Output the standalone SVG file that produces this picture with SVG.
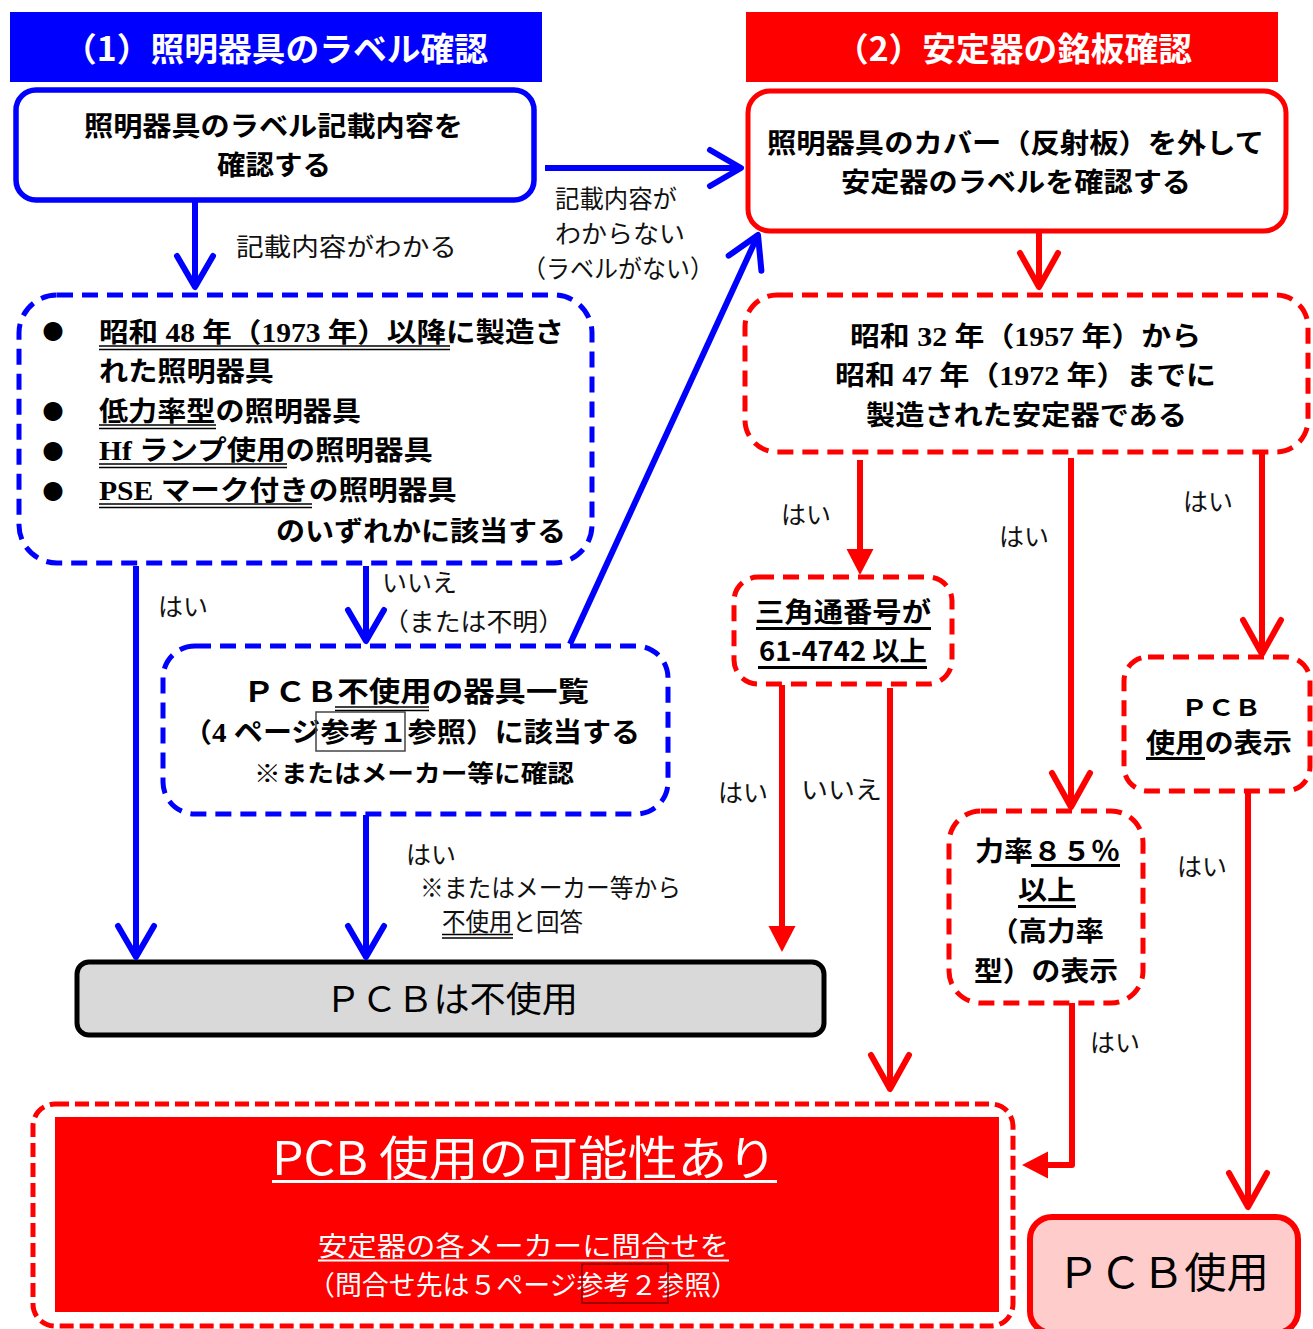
<svg xmlns="http://www.w3.org/2000/svg" width="1313" height="1329" viewBox="0 0 1313 1329">
<style>
.g{font-family:"Noto Sans CJK JP","Liberation Sans",sans-serif}
.b{font-family:"Noto Sans CJK JP","Liberation Sans",sans-serif;font-weight:bold;fill:#000}
.s{font-family:"Liberation Serif","Noto Sans CJK JP",serif;font-weight:bold;fill:#000}
.lbl{font-family:"Noto Sans CJK JP","Liberation Sans",sans-serif;font-size:25px;fill:#111}
.ttl{font-family:"Noto Sans CJK JP","Liberation Sans",sans-serif;font-weight:bold;font-size:33px;fill:#fff}
.bd{fill:#fff;stroke:#0000ff;stroke-width:5;stroke-dasharray:16 9}
.rd{fill:#fff;stroke:#ff0000;stroke-width:5;stroke-dasharray:16 9}
.ul{stroke:#000;stroke-width:1.3}
.ut{stroke:#000;stroke-width:3}
.bl{fill:none;stroke:#0000ff;stroke-width:6}
.rl{fill:none;stroke:#ff0000;stroke-width:6}
</style>
<defs>
<marker id="cb" markerUnits="userSpaceOnUse" markerWidth="60" markerHeight="60" refX="0" refY="0" orient="auto" overflow="visible"><path d="M-31,-18 L0,0 L-31,18" fill="none" stroke="#0000ff" stroke-width="6" stroke-linecap="round" stroke-linejoin="round"/></marker>
<marker id="cr" markerUnits="userSpaceOnUse" markerWidth="60" markerHeight="60" refX="0" refY="0" orient="auto" overflow="visible"><path d="M-34,-19 L0,0 L-34,19" fill="none" stroke="#ff0000" stroke-width="6" stroke-linecap="round" stroke-linejoin="round"/></marker>
<marker id="tr" markerUnits="userSpaceOnUse" markerWidth="60" markerHeight="60" refX="0" refY="0" orient="auto" overflow="visible"><path d="M-4,-13.5 L22,0 L-4,13.5 Z" fill="#ff0000"/></marker>
</defs>

<g id="title1"><rect x="10" y="12" width="532" height="70" fill="#0000ff"/><text class="ttl" x="63" y="61" textLength="425" lengthAdjust="spacingAndGlyphs">（1）照明器具のラベル確認</text></g>
<g id="title2"><rect x="746" y="12" width="532" height="70" fill="#ff0000"/><text class="ttl" x="835" y="61" textLength="357" lengthAdjust="spacingAndGlyphs">（2）安定器の銘板確認</text></g>

<g id="nodeA"><rect x="16" y="90" width="518" height="110" rx="20" fill="#fff" stroke="#0000ff" stroke-width="5.5"/>
<text class="b" font-size="27" x="84" y="136" textLength="379" lengthAdjust="spacingAndGlyphs">照明器具のラベル記載内容を</text>
<text class="b" font-size="27" x="217" y="175" textLength="114" lengthAdjust="spacingAndGlyphs">確認する</text></g>

<g id="nodeB"><rect x="748" y="91" width="538" height="140" rx="22" fill="#fff" stroke="#ff0000" stroke-width="5"/>
<text class="b" font-size="27" x="767" y="153" textLength="497" lengthAdjust="spacingAndGlyphs">照明器具のカバー（反射板）を外して</text>
<text class="b" font-size="27" x="841" y="192" textLength="350" lengthAdjust="spacingAndGlyphs">安定器のラベルを確認する</text></g>

<g id="nodeC"><rect class="bd" x="19" y="295" width="573" height="268" rx="38"/>
<g class="g" font-size="21" fill="#000" text-anchor="middle"><text x="53" y="339">●</text><text x="53" y="419">●</text><text x="53" y="459">●</text><text x="53" y="499">●</text></g>
<text class="s" font-size="27" x="99" y="342" textLength="465" lengthAdjust="spacingAndGlyphs">昭和 48 年（1973 年）以降に製造さ</text>
<text class="s" font-size="27" x="99" y="381" textLength="175" lengthAdjust="spacingAndGlyphs">れた照明器具</text>
<text class="s" font-size="27" x="99" y="421" textLength="262" lengthAdjust="spacingAndGlyphs">低力率型の照明器具</text>
<text class="s" font-size="27" x="99" y="460" textLength="334" lengthAdjust="spacingAndGlyphs">Hf ランプ使用の照明器具</text>
<text class="s" font-size="27" x="99" y="500" textLength="358" lengthAdjust="spacingAndGlyphs">PSE マーク付きの照明器具</text>
<text class="s" font-size="27" x="276" y="541" textLength="290" lengthAdjust="spacingAndGlyphs">のいずれかに該当する</text>
<path class="ul" d="M99,346H450M99,349.5H450M99,425H216M99,428.5H216M99,464H287M99,467.5H287M99,504H312M99,507.5H312"/></g>

<g id="nodeD"><rect class="bd" x="163" y="646" width="505" height="168" rx="32"/>
<text class="b" font-size="28" x="243" y="702" textLength="346" lengthAdjust="spacingAndGlyphs">ＰＣＢ不使用の器具一覧</text>
<path class="ul" d="M335,707H429M335,710.5H429"/>
<text class="s" font-size="27" x="183" y="742" textLength="457" lengthAdjust="spacingAndGlyphs">（4 ページ参考１参照）に該当する</text>
<rect x="316" y="712" width="89" height="39" fill="none" stroke="#444" stroke-width="1.5"/>
<text class="b" font-size="24" x="254" y="782" textLength="320" lengthAdjust="spacingAndGlyphs">※またはメーカー等に確認</text></g>

<g id="nodeGray"><rect x="77" y="962" width="747" height="73" rx="12" fill="#d9d9d9" stroke="#000" stroke-width="5"/>
<text class="g" font-size="35" fill="#000" x="325" y="1012" textLength="253" lengthAdjust="spacingAndGlyphs">ＰＣＢは不使用</text></g>

<g id="nodeE"><rect class="rd" x="745" y="295" width="563" height="157" rx="32"/>
<text class="s" font-size="27" x="850" y="346" textLength="351" lengthAdjust="spacingAndGlyphs">昭和 32 年（1957 年）から</text>
<text class="s" font-size="27" x="835" y="385" textLength="381" lengthAdjust="spacingAndGlyphs">昭和 47 年（1972 年）までに</text>
<text class="s" font-size="27" x="866" y="425" textLength="321" lengthAdjust="spacingAndGlyphs">製造された安定器である</text></g>

<g id="nodeF"><rect class="rd" x="734" y="577" width="218" height="107" rx="24"/>
<text class="b" font-size="27" x="755" y="622" textLength="176" lengthAdjust="spacingAndGlyphs">三角通番号が</text>
<text class="b" font-size="27" x="759" y="661" textLength="168" lengthAdjust="spacingAndGlyphs">61-4742 以上</text>
<path class="ut" d="M756,628.5H931M758,667.5H927"/></g>

<g id="nodeH"><rect class="rd" x="1124" y="657" width="186" height="134" rx="24"/>
<text class="b" font-size="23" x="1181" y="716" textLength="80" lengthAdjust="spacingAndGlyphs">ＰＣＢ</text>
<text class="b" font-size="27" x="1146" y="753" textLength="146" lengthAdjust="spacingAndGlyphs">使用の表示</text>
<path class="ut" d="M1146,758.5H1205"/></g>

<g id="nodeG"><rect class="rd" x="949" y="811" width="194" height="192" rx="32"/>
<text class="b" font-size="27" x="975" y="861" textLength="145" lengthAdjust="spacingAndGlyphs">力率８５％</text>
<path class="ut" d="M1031,865.5H1120M1018,906.5H1076"/>
<text class="b" font-size="27" x="1018" y="900" textLength="58" lengthAdjust="spacingAndGlyphs">以上</text>
<text class="b" font-size="27" x="990" y="941" textLength="114" lengthAdjust="spacingAndGlyphs">（高力率</text>
<text class="b" font-size="27" x="974" y="981" textLength="144" lengthAdjust="spacingAndGlyphs">型）の表示</text></g>

<g id="nodePossible"><rect x="33" y="1104" width="980" height="222" rx="22" fill="#fff" stroke="#ff0000" stroke-width="5" stroke-dasharray="14 6"/>
<rect x="55" y="1117" width="944" height="195" fill="#ff0000"/>
<text class="g" font-size="47" fill="#fff" x="272" y="1175" textLength="505" lengthAdjust="spacingAndGlyphs">PCB 使用の可能性あり</text>
<path d="M272,1181.5H777" stroke="#fff" stroke-width="3"/>
<text class="g" font-size="27" fill="#fff" x="318" y="1256" textLength="411" lengthAdjust="spacingAndGlyphs">安定器の各メーカーに問合せを</text>
<path d="M318,1260.5H729" stroke="#fff" stroke-width="2"/>
<text class="g" font-size="27" fill="#fff" x="308" y="1295" textLength="430" lengthAdjust="spacingAndGlyphs">（問合せ先は５ページ参考２参照）</text>
<rect x="582" y="1264" width="86" height="39" fill="none" stroke="#7f0000" stroke-width="1.5"/></g>

<g id="nodePCB"><rect x="1030" y="1217" width="268" height="116" rx="22" fill="#ffcccc" stroke="#ff0000" stroke-width="6"/>
<text class="g" font-size="42" fill="#000" x="1057" y="1288" textLength="212" lengthAdjust="spacingAndGlyphs">ＰＣＢ使用</text></g>

<g id="connectors">
<path class="bl" d="M195,202V287" marker-end="url(#cb)"/>
<path class="bl" d="M545,168H741" marker-end="url(#cb)"/>
<path class="bl" d="M136,566V957" marker-end="url(#cb)"/>
<path class="bl" d="M366,566V641" marker-end="url(#cb)"/>
<path class="bl" d="M570,644L758,235" marker-end="url(#cb)"/>
<path class="bl" d="M366,815V957" marker-end="url(#cb)"/>
<path class="rl" d="M1039,232V287" marker-end="url(#cr)"/>
<path class="rl" d="M860,460V553" marker-end="url(#tr)"/>
<path class="rl" d="M1071,458V807" marker-end="url(#cr)"/>
<path class="rl" d="M1262,452V654" marker-end="url(#cr)"/>
<path class="rl" d="M782,685V930" marker-end="url(#tr)"/>
<path class="rl" d="M890,688V1089" marker-end="url(#cr)"/>
<path class="rl" d="M1248,792V1207" marker-end="url(#cr)"/>
<path class="rl" d="M1072,1003V1165H1044" stroke-linejoin="round" marker-end="url(#tr)"/>
<text class="lbl" x="236" y="256" textLength="221" lengthAdjust="spacingAndGlyphs">記載内容がわかる</text>
<text class="lbl" font-size="24" x="555" y="208" textLength="122" lengthAdjust="spacingAndGlyphs">記載内容が</text>
<text class="lbl" font-size="24" x="555" y="243" textLength="130" lengthAdjust="spacingAndGlyphs">わからない</text>
<text class="lbl" font-size="24" x="522" y="278" textLength="192" lengthAdjust="spacingAndGlyphs">（ラベルがない）</text>
<text class="lbl" x="158" y="616">はい</text>
<text class="lbl" x="382" y="592">いいえ</text>
<text class="lbl" x="383" y="631" textLength="181" lengthAdjust="spacingAndGlyphs">（または不明）</text>
<text class="lbl" x="406" y="864">はい</text>
<text class="lbl" font-size="24" x="420" y="897" textLength="261" lengthAdjust="spacingAndGlyphs">※またはメーカー等から</text>
<text class="lbl" font-size="24" x="442" y="931" textLength="141" lengthAdjust="spacingAndGlyphs">不使用と回答</text>
<path class="ul" d="M442,934.5H513M442,938H513"/>
<text class="lbl" x="781" y="524">はい</text>
<text class="lbl" x="999" y="546">はい</text>
<text class="lbl" x="1183" y="511">はい</text>
<text class="lbl" x="718" y="802">はい</text>
<text class="lbl" x="801" y="799" textLength="81" lengthAdjust="spacingAndGlyphs">いいえ</text>
<text class="lbl" x="1177" y="876">はい</text>
<text class="lbl" x="1090" y="1052">はい</text>
</g>
</svg>
